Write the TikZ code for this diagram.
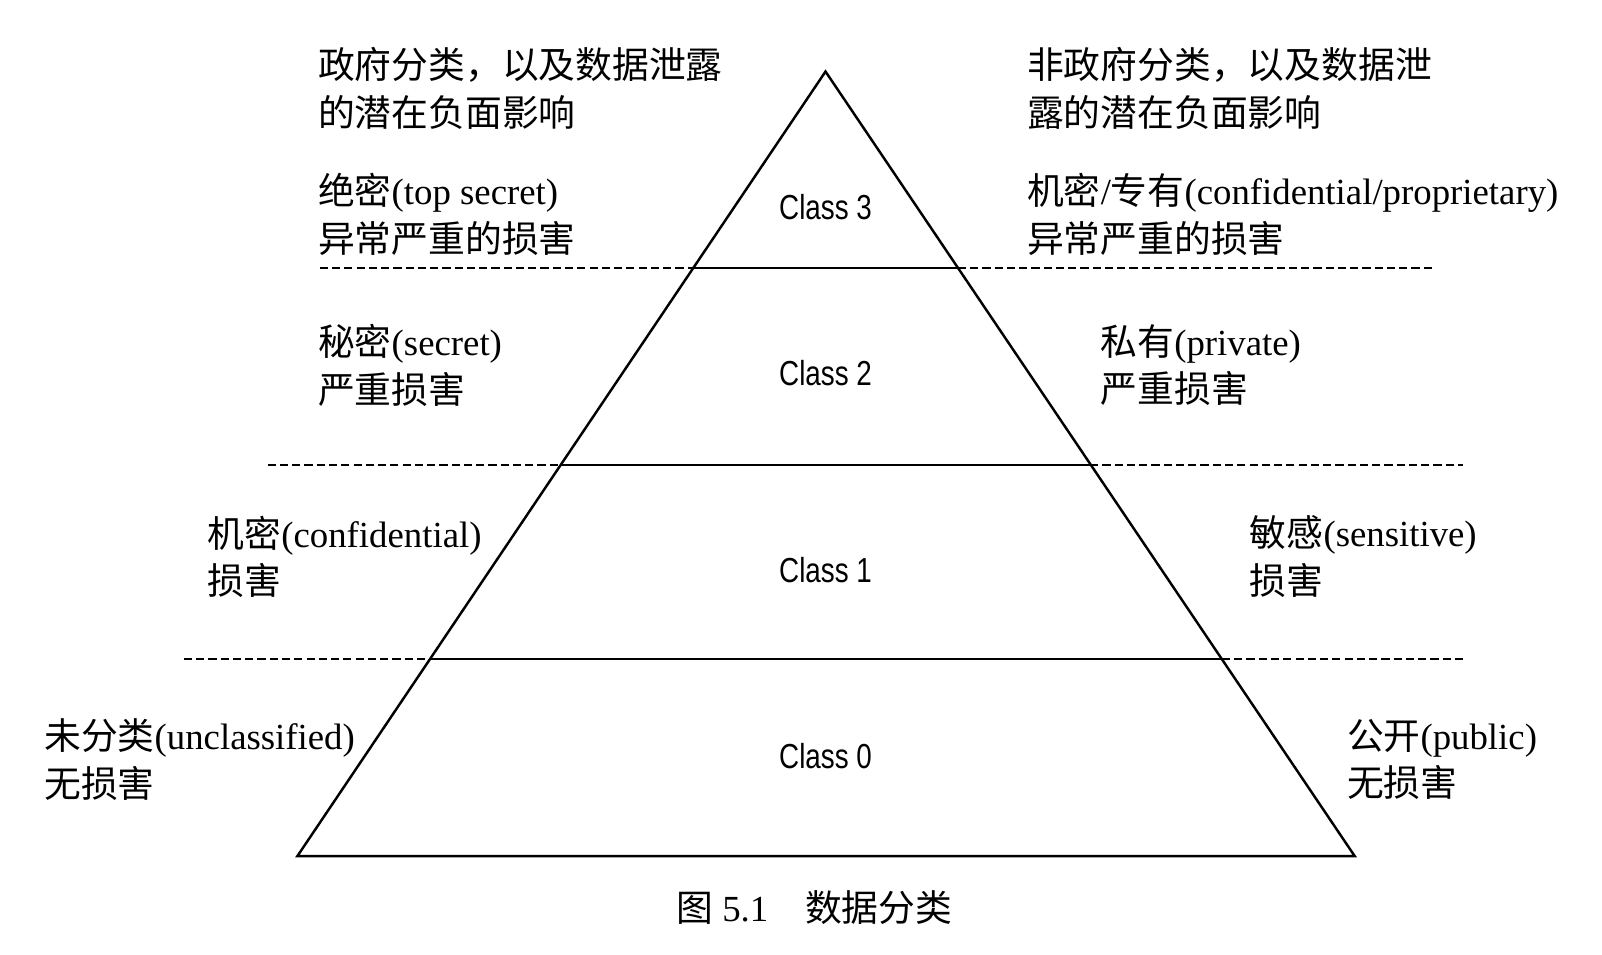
\documentclass[tikz,border=0pt]{standalone}
\usepackage{fontspec}
\setmainfont{Liberation Serif}
\newfontfamily\cjk{Noto Sans CJK SC}
\newfontfamily\classfont{Liberation Sans}
\newcommand\zh[1]{{\cjk #1}}
\begin{document}
\begin{tikzpicture}[x=0.5pt,y=-0.5pt,
  lbl/.style={anchor=west,align=left,inner sep=0pt,font=\fontsize{18}{23.3}\selectfont},
  cls/.style={inner sep=0pt,font=\classfont\fontsize{17}{17}\selectfont},
  tri/.style={line width=1.2pt},
  dsh/.style={line width=0.8pt,dash pattern=on 4pt off 2pt},
  sld/.style={line width=1.1pt}]
\useasboundingbox (0,0) rectangle (1568,934);
% triangle
\coordinate (apex) at (808,70);
\coordinate (bl) at (291,838);
\coordinate (br) at (1326,838);
\draw[tri,line join=miter] (apex) -- (bl) -- (br) -- cycle;
% level lines
\coordinate (d3a) at (313,262);  \coordinate (s3a) at (679,262);
\coordinate (s3b) at (937.5,262); \coordinate (d3b) at (1405,262);
\coordinate (d2a) at (262,455);  \coordinate (s2a) at (549,455);
\coordinate (s2b) at (1067,455); \coordinate (d2b) at (1432,455);
\coordinate (d1a) at (180,645);  \coordinate (s1a) at (421,645);
\coordinate (s1b) at (1196,645); \coordinate (d1b) at (1435,645);
\draw[dsh] (d3a) -- (s3a); \draw[sld] (s3a) -- (s3b); \draw[dsh] (s3b) -- (d3b);
\draw[dsh] (d2a) -- (s2a); \draw[sld] (s2a) -- (s2b); \draw[dsh] (s2b) -- (d2b);
\draw[dsh] (d1a) -- (s1a); \draw[sld] (s1a) -- (s1b); \draw[dsh] (s1b) -- (d1b);
% class labels
\node[cls] (c3) at (808,203) {\scalebox{0.8}[1]{Class 3}};
\node[cls] (c2) at (808,365) {\scalebox{0.8}[1]{Class 2}};
\node[cls] (c1) at (808,558) {\scalebox{0.8}[1]{Class 1}};
\node[cls] (c0) at (808,740) {\scalebox{0.8}[1]{Class 0}};
% left texts
\node[lbl] (lt) at (311,86.5) {\zh{政府分类，以及数据泄露}\\\zh{的潜在负面影响}};
\node[lbl] (l3) at (311,210) {\zh{绝密}(top secret)\\\zh{异常严重的损害}};
\node[lbl] (l2) at (311,357.5) {\zh{秘密}(secret)\\\zh{严重损害}};
\node[lbl] (l1) at (203,545) {\zh{机密}(confidential)\\\zh{损害}};
\node[lbl] (l0) at (43,743.5) {\zh{未分类}(unclassified)\\\zh{无损害}};
% right texts
\node[lbl] (rt) at (1005,86.5) {\zh{非政府分类，以及数据泄}\\\zh{露的潜在负面影响}};
\node[lbl] (r3) at (1005,210) {\zh{机密}/\zh{专有}(confidential/proprietary)\\\zh{异常严重的损害}};
\node[lbl] (r2) at (1077,357.5) {\zh{私有}(private)\\\zh{严重损害}};
\node[lbl] (r1) at (1223,545) {\zh{敏感}(sensitive)\\\zh{损害}};
\node[lbl] (r0) at (1318,743.5) {\zh{公开}(public)\\\zh{无损害}};
% caption
\node[inner sep=0pt,font=\fontsize{18}{23.3}\selectfont] (cap) at (797,888) {\zh{图} 5.1\quad\zh{数据分类}};
\end{tikzpicture}
\end{document}
